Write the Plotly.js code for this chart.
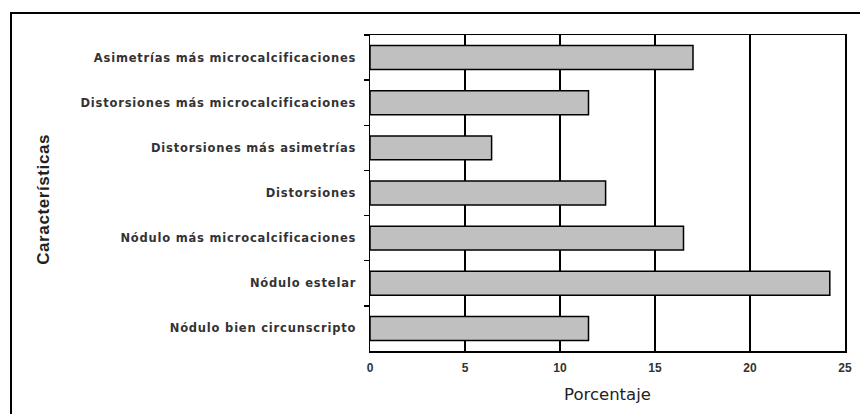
<!DOCTYPE html>
<html>
<head>
<meta charset="utf-8">
<script src="https://cdn.plot.ly/plotly-3.0.1.min.js"></script>
<style>
  html, body { margin: 0; padding: 0; background: #fff; }
  #wrap { position: relative; width: 860px; height: 414px; overflow: hidden; }
  #chart { position: absolute; left: 0; top: 0; width: 860px; height: 414px; }
  #frame { position: absolute; left: 10px; top: 12px; width: 900px; height: 450px;
           border-left: 2px solid #000; border-top: 2px solid #000; pointer-events: none; }
  #chart .ytick text { letter-spacing: 0.8px; }
  #chart .annotation-text { letter-spacing: 0.6px; }
</style>
</head>
<body>
<div id="wrap">
  <div id="chart"></div>
  <div id="frame"></div>
</div>
<script>
const categories = [
  "Asimetrías más microcalcificaciones",
  "Distorsiones más microcalcificaciones",
  "Distorsiones más asimetrías",
  "Distorsiones",
  "Nódulo más microcalcificaciones",
  "Nódulo estelar",
  "Nódulo bien circunscripto"
];
const percentages = [17.0, 11.5, 6.4, 12.4, 16.5, 24.2, 11.5];
const xTickValues = [0, 5, 10, 15, 20, 25];
const xTitle = "Porcentaje";
const yTitle = "Características";

const trace = {
  type: "bar",
  orientation: "h",
  y: categories,
  x: percentages,
  marker: { color: "#c0c0c0", line: { color: "#000", width: 1.5 } },
  hoverinfo: "x+y"
};

const layout = {
  width: 860, height: 414,
  margin: { l: 370, r: 15, t: 35, b: 63 },
  paper_bgcolor: "#fff",
  plot_bgcolor: "#fff",
  bargap: 0.47,
  showlegend: false,
  xaxis: {
    range: [0, 25],
    tickvals: xTickValues,
    ticktext: xTickValues.map(String),
    showgrid: true, gridcolor: "#000", gridwidth: 1.5,
    zeroline: false,
    showline: true, linecolor: "#000", linewidth: 1.5, mirror: true,
    ticks: "",
    ticklabelstandoff: 5,
    tickfont: { family: "Liberation Sans, Arial, sans-serif", size: 12, color: "#333", weight: "bold" },
    title: { text: xTitle, font: { family: "DejaVu Sans, sans-serif", size: 16.5, color: "#222" }, standoff: 14 }
  },
  yaxis: {
    type: "category",
    autorange: "reversed",
    showgrid: false,
    zeroline: false,
    showline: true, linecolor: "#000", linewidth: 1.5, mirror: true,
    ticks: "outside", ticklen: 5, tickwidth: 1.5, tickcolor: "#000",
    tickson: "boundaries",
    ticklabelstandoff: 10,
    tickfont: { family: "DejaVu Sans, sans-serif", size: 11.5, color: "#333", weight: "bold" }
  },
  annotations: [{
    text: yTitle,
    xref: "paper", yref: "paper",
    x: (43 - 370) / 475, y: 0.48,
    xanchor: "center", yanchor: "middle",
    textangle: -90,
    showarrow: false,
    font: { family: "Liberation Sans, Arial, sans-serif", size: 17, color: "#222", weight: "bold" }
  }]
};

Plotly.newPlot("chart", [trace], layout, { displayModeBar: false, staticPlot: true });
</script>
</body>
</html>
